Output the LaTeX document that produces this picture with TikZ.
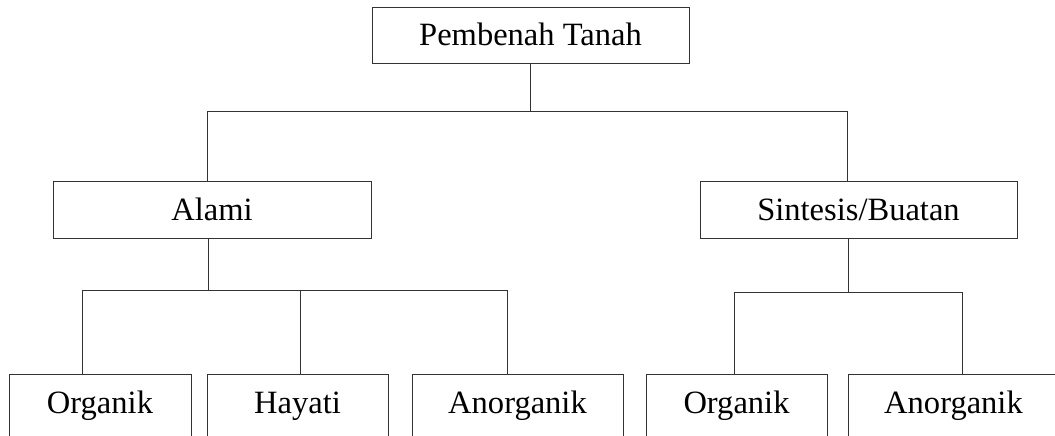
\documentclass[tikz,border=0pt]{standalone}
\usepackage{fontspec}
\setmainfont{Liberation Serif}
\usetikzlibrary{positioning}

\tikzset{
  kotak/.style={draw=black!80, line width=0.75pt, rectangle, inner xsep=0pt, inner ysep=0pt,
    font=\fontsize{24.4}{28}\selectfont, text height=29pt, text depth=13.5pt},
  kotakbawah/.style={kotak, text depth=20pt},
  garis/.style={draw=black!80, line width=0.75pt}
}

\begin{document}
\begin{tikzpicture}[x=0.75pt, y=-0.75pt]
  \useasboundingbox (0,0) rectangle (1055,435);
  \clip (0,0) rectangle (1055,435);

  % Level 1
  \node[kotak, minimum width=237.75pt] (pembenah) at (530.5,35.5) {Pembenah Tanah};

  % Level 2
  \node[kotak, minimum width=238.5pt] (alami) at (212,210) {Alami};
  \node[kotak, minimum width=237.75pt] (sintesis) at (858.5,210) {Sintesis/Buatan};

  % Level 3
  \node[kotakbawah, minimum width=136.5pt, anchor=north] (organik) at (100,374) {Organik};
  \node[kotakbawah, minimum width=135.75pt, anchor=north] (hayati) at (297.5,374) {Hayati};
  \node[kotakbawah, minimum width=158.25pt, anchor=north] (anorganik) at (517.5,374) {Anorganik};
  \node[kotakbawah, minimum width=135.75pt, anchor=north] (organikb) at (736.5,374) {Organik};
  \node[kotakbawah, minimum width=158.25pt, anchor=north] (anorganikb) at (953.5,374) {Anorganik};

  % Junctions
  \coordinate (jkiri) at (207,111);
  \coordinate (jkanan) at (847,111);
  \coordinate (jalami) at (208,290);
  \coordinate (ja1) at (82,290);
  \coordinate (ja2) at (300,290);
  \coordinate (ja3) at (507,290);
  \coordinate (jsin) at (848,292);
  \coordinate (js1) at (734,292);
  \coordinate (js2) at (962,292);

  % Connectors
  \draw[garis] (pembenah.south) -- (pembenah.south |- jkiri);
  \draw[garis] (alami.north -| jkiri) -- (jkiri) -- (jkanan) -- (sintesis.north -| jkanan);

  \draw[garis] (alami.south -| jalami) -- (jalami);
  \draw[garis] (organik.north -| ja1) -- (ja1) -- (ja3) -- (anorganik.north -| ja3);
  \draw[garis] (ja2) -- (hayati.north -| ja2);

  \draw[garis] (sintesis.south -| jsin) -- (jsin);
  \draw[garis] (organikb.north -| js1) -- (js1) -- (js2) -- (anorganikb.north -| js2);
\end{tikzpicture}
\end{document}
